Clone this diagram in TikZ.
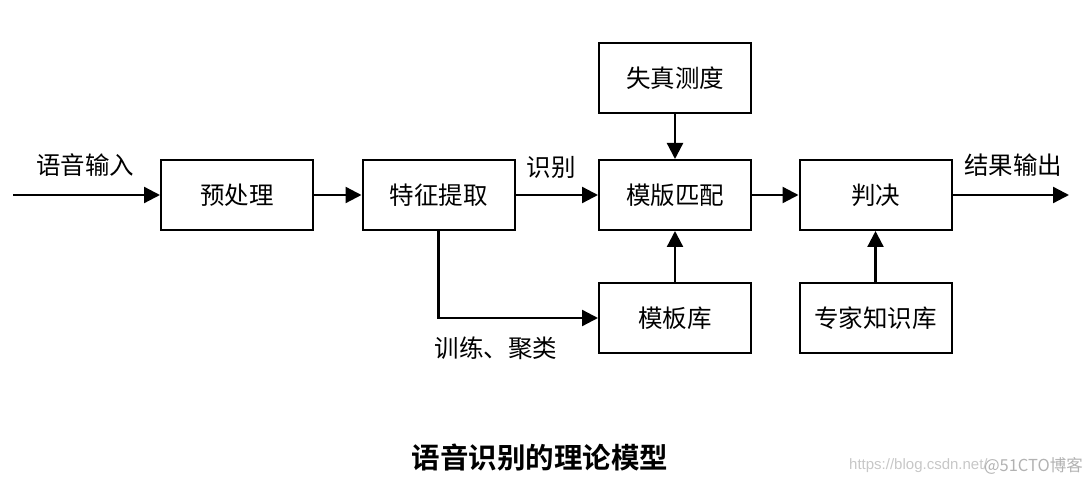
\documentclass[tikz,border=0pt]{standalone}
\usepackage{fontspec}
\newfontfamily\cjk{Noto Sans CJK SC}
\newfontfamily\cjkb{Noto Sans CJK SC Bold}
\setsansfont{Liberation Sans}
\usetikzlibrary{arrows.meta}
\begin{document}
\begin{tikzpicture}[x=1pt,y=-1pt,
  blk/.style={draw, line width=2pt, minimum width=152pt, minimum height=70pt, inner sep=0pt,
    font=\cjk\fontsize{24.5}{28}\selectfont},
  arr/.style={line width=2.3pt, -{Triangle[length=16pt,width=16pt]}},
  lbl/.style={font=\cjk\fontsize{24.5}{28}\selectfont, inner sep=0pt},
  wm/.style={text=black!22, inner sep=0pt}]
\useasboundingbox (0,0) rectangle (1092,486);
\node[blk] (pre) at (237,195) {预处理};
\node[blk] (feat) at (438.5,195) {特征提取};
\node[blk] (match) at (675,195) {模版匹配};
\node[blk] (judge) at (875.5,195) {判决};
\node[blk] (dist) at (675,78) {失真测度};
\node[blk] (lib) at (675,318) {模板库};
\node[blk] (exp) at (875.5,318) {专家知识库};
\coordinate (in) at (13,195);
\coordinate (out) at (1069,195);
\draw[arr] (in) -- (pre.west);
\draw[arr] (pre.east) -- (feat.west);
\draw[arr] (feat.east) -- (match.west);
\draw[arr] (match.east) -- (judge.west);
\draw[arr] (judge.east) -- (out);
\draw[arr] (dist.south) -- (match.north);
\draw[arr] (lib.north) -- (match.south);
\draw[arr] (exp.north) -- (judge.south);
\draw[arr] (feat.south) |- (lib.west);
\node[lbl] (tin) at (85,165) {语音输入};
\node[lbl] (trec) at (551,167) {识别};
\node[lbl] (ttrain) at (496,348) {训练、聚类};
\node[lbl] (tout) at (1013,165) {结果输出};
\node[inner sep=0pt, font=\cjkb\fontsize{28.5}{32}\selectfont] (title) at (540,458) {语音识别的理论模型};
\node[wm, anchor=west, font=\sffamily\fontsize{15}{17}\selectfont] (wm1) at (849,466) {https://blog.csdn.net/};
\node[wm, anchor=east, text=black!30, font=\cjk\fontsize{16.5}{19}\selectfont] (wm2) at (1083,466) {@51CTO博客};
\end{tikzpicture}
\end{document}
